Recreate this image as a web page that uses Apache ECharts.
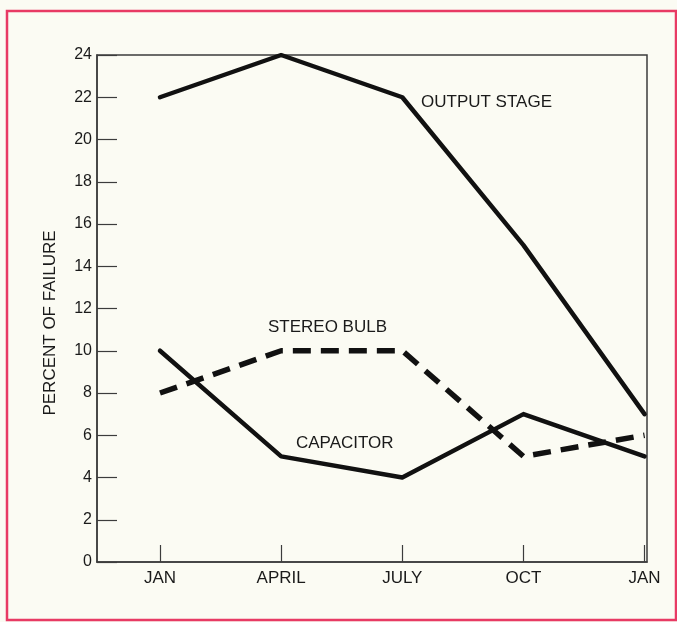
<!DOCTYPE html>
<html>
<head>
<meta charset="utf-8">
<script src="https://cdn.jsdelivr.net/npm/echarts@6/dist/echarts.min.js"></script>
<style>
html,body{margin:0;padding:0;background:#fbfbf3;}
#c{width:677px;height:622px;}
</style>
</head>
<body>
<div id="c"></div>
<script>
const months = ['JAN', 'APRIL', 'JULY', 'OCT', 'JAN'];
const yTicks = [0, 2, 4, 6, 8, 10, 12, 14, 16, 18, 20, 22, 24];
const outputStage = [22, 24, 22, 15, 7];
const capacitor = [10, 5, 4, 7, 5];
const stereoBulb = [8, 10, 10, 5, 6];
const seriesNames = ['OUTPUT STAGE', 'CAPACITOR', 'STEREO BULB'];
const yAxisTitle = 'PERCENT OF FAILURE';

const pts = arr => arr.map((v, i) => [i, v]);
const font = '"Liberation Sans", Arial, sans-serif';
const ink = '#111';
const axisCol = '#3c3c3c';

const chart = echarts.init(document.getElementById('c'), null, {renderer: 'canvas'});
chart.setOption({
  backgroundColor: '#fbfbf3',
  animation: false,
  grid: {left: 97, top: 55, right: 30, bottom: 60, show: true, borderColor: axisCol, borderWidth: 1.5, backgroundColor: 'transparent'},
  xAxis: {
    type: 'value', min: -0.52, max: 4.02,
    splitLine: {show: false},
    axisLine: {onZero: false, lineStyle: {color: axisCol, width: 1.5}},
    axisTick: {customValues: [0, 1, 2, 3, 4], inside: true, length: 17, lineStyle: {color: axisCol, width: 1.2}},
    axisLabel: {customValues: [0, 1, 2, 3, 4], formatter: v => months[Math.round(v)], color: '#1a1a1a', fontFamily: font, fontSize: 17, margin: 8}
  },
  yAxis: {
    type: 'value', min: 0, max: 24, interval: 2,
    splitLine: {show: false},
    axisLine: {show: true, onZero: false, lineStyle: {color: axisCol, width: 1.5}},
    axisTick: {inside: true, length: 20, lineStyle: {color: axisCol, width: 1.2}},
    axisLabel: {color: '#1a1a1a', fontFamily: font, fontSize: 16, margin: 5,
      formatter: v => yTicks.includes(v) ? String(v) : ''}
  },
  series: [
    {name: seriesNames[0], type: 'line', data: pts(outputStage), symbol: 'none',
     lineStyle: {color: ink, width: 4.5, join: 'round', cap: 'round'}},
    {name: seriesNames[1], type: 'line', data: pts(capacitor), symbol: 'none',
     lineStyle: {color: ink, width: 4.5, join: 'round', cap: 'round'}},
    {name: seriesNames[2], type: 'line', data: pts(stereoBulb), symbol: 'none',
     lineStyle: {color: ink, width: 5.5, type: [18, 10], join: 'round', cap: 'butt'}}
  ],
  graphic: [
    {type: 'rect', shape: {x: 7, y: 11, width: 669, height: 609}, silent: true,
     style: {fill: 'none', stroke: '#e83a64', lineWidth: 2.5}},
    {type: 'text', x: 50, y: 323, rotation: Math.PI / 2, silent: true,
     style: {text: yAxisTitle, fill: '#1a1a1a', font: '17px ' + font, align: 'center', verticalAlign: 'middle'}},
    {type: 'text', left: 421, top: 94, silent: true,
     style: {text: seriesNames[0], fill: '#1a1a1a', font: '17px ' + font}},
    {type: 'text', left: 268, top: 319, silent: true,
     style: {text: seriesNames[2], fill: '#1a1a1a', font: '17px ' + font}},
    {type: 'text', left: 296, top: 435, silent: true,
     style: {text: seriesNames[1], fill: '#1a1a1a', font: '17px ' + font}}
  ]
});
</script>
</body>
</html>
